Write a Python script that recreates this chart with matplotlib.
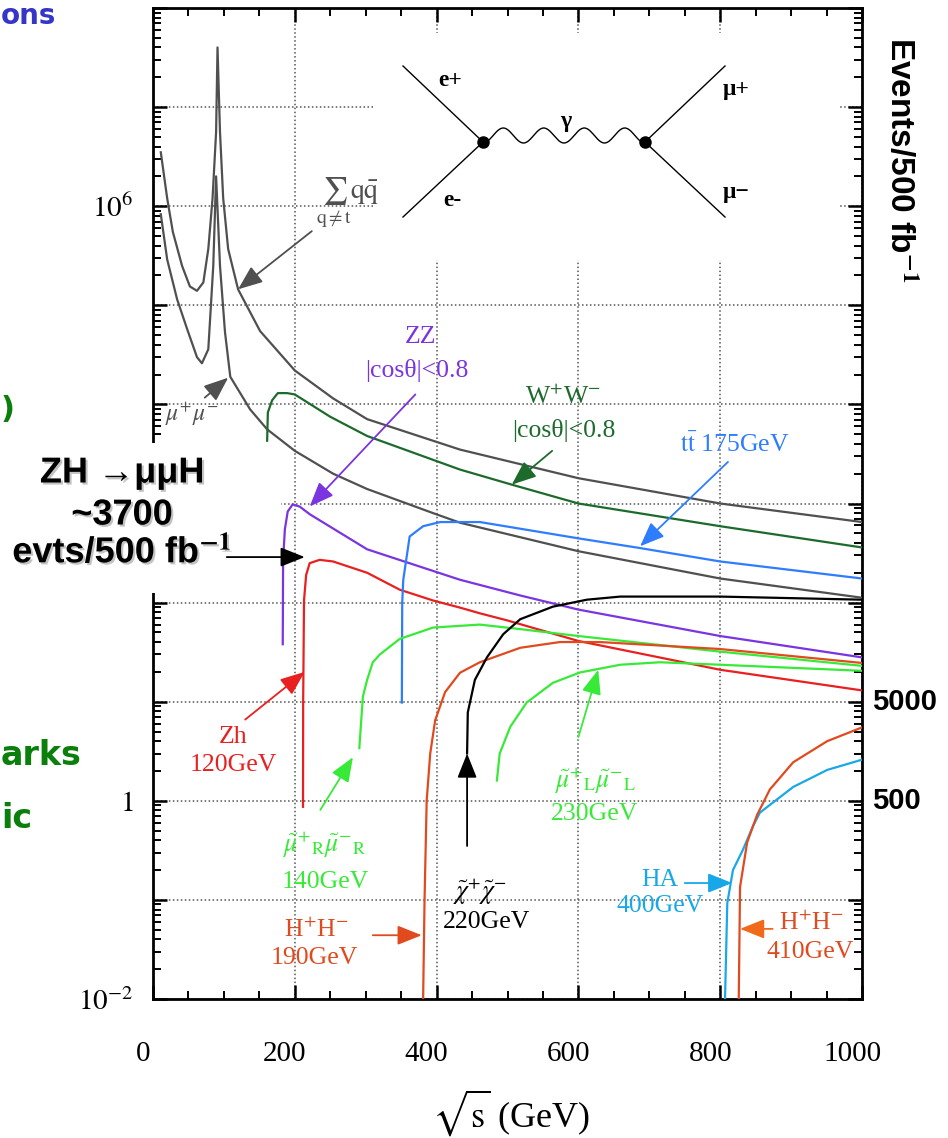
import numpy as np
import matplotlib
matplotlib.use('Agg')
import matplotlib.pyplot as plt
import matplotlib.patheffects as pe
from matplotlib.patches import Rectangle
from matplotlib.ticker import LogLocator, NullFormatter, FixedLocator, FuncFormatter, MultipleLocator
from matplotlib.transforms import ScaledTranslation

plt.rcParams['font.family'] = ['Liberation Serif', 'DejaVu Serif']
plt.rcParams['mathtext.fontset'] = 'stix'

# ---------------- cross sections (fb) vs sqrt(s) (GeV) ----------------
qq_x = [11, 20, 28, 41, 52, 62, 71, 78, 84, 89, 91, 94.5, 99, 106, 120, 151, 200, 254, 302, 433, 600, 800, 1000]
qq_y = [3.5e6, 1.2e6, 5.5e5, 2.5e5, 1.55e5, 1.4e5, 1.7e5, 3.7e5, 1.2e6, 5.6e6, 4.0e7, 5.6e6, 1.2e6, 3.7e5,
        1.45e5, 5.5e4, 2.2e4, 1.15e4, 7.1e3, 3.5e3, 1.8e3, 1.0e3, 650]

mumu_x = [11, 20, 34, 48, 62, 69, 78, 85, 89, 94.5, 101.5, 109, 137, 161, 200, 254, 302, 395, 433, 600, 800, 1000]
mumu_y = [8.3e5, 2.9e5, 1.15e5, 5.8e4, 3.0e4, 2.6e4, 3.6e4, 2.5e5, 2.0e6, 2.5e5, 5.4e4, 1.9e4,
          8.9e3, 5.6e3, 3.4e3, 2.0e3, 1.4e3, 800, 640, 330, 175, 112]

ww_x = [161, 162, 168, 176, 189, 200, 250, 302, 433, 506, 600, 800, 1000]
ww_y = [4.3e3, 8.3e3, 1.1e4, 1.3e4, 1.3e4, 1.26e4, 7.5e3, 4.8e3, 2.2e3, 1.55e3, 1.0e3, 590, 360]

zz_x = [183, 183.5, 186, 190, 197, 207, 221, 302, 433, 518, 600, 800, 1000]
zz_y = [38, 270, 550, 830, 980, 930, 780, 345, 170, 118, 85, 46, 28]

zh_x = [211.6, 211.8, 213, 216, 221, 235, 254, 302, 348, 395, 433, 461, 500, 600, 800, 1000]
zh_y = [0.87, 10, 105, 190, 250, 270, 260, 200, 135, 105, 89, 78, 66, 41, 21, 13]

tt_x = [351, 351.5, 353, 362, 381, 405, 461, 600, 687, 800, 1000]
tt_y = [9.8, 100, 170, 465, 590, 650, 650, 445, 355, 260, 175]

smuR_x = [291, 296, 302, 310, 320, 348, 395, 461, 518, 600, 800, 1000]
smuR_y = [3.4, 11.2, 16.6, 25, 30, 43, 56, 60, 54, 46, 32, 23]

smuL_x = [485, 489, 504, 527, 564, 602, 659, 715, 800, 1000]
smuL_y = [1.6, 3.0, 5.6, 9.8, 15.5, 19.7, 23.6, 25, 23.6, 20.5]

hpm190_x = [380.5, 381, 383, 386, 391, 398, 412, 433, 461, 518, 574, 630, 800, 1000]
hpm190_y = [0.008, 0.01, 0.1, 1.0, 3.0, 6.5, 12.5, 19.6, 25, 35, 40, 40, 34, 24.6]

chi_x = [443, 444, 454, 471, 494, 518, 564, 612, 659, 800, 1000]
chi_y = [3.0, 7.8, 16.6, 28, 48, 68, 91, 107, 115, 115, 107]

ha_x = [806.5, 810, 818, 832, 846, 856, 903, 951, 1000]
ha_y = [0.008, 0.093, 0.2, 0.32, 0.55, 0.76, 1.38, 2.05, 2.6]

hpm410_x = [826, 828, 838, 852, 856, 870, 903, 951, 1000]
hpm410_y = [0.008, 0.135, 0.38, 0.72, 0.82, 1.3, 2.45, 4.0, 5.5]

xticks = [0, 200, 400, 600, 800, 1000]
ylabels = {1e-2: r'$10^{-2}$', 1.0: r'$1$', 1e6: r'$10^{6}$'}

GREY = '#505050'
DKGREEN = '#1d6b2c'
PURPLE = '#7a34e0'
RED = '#e82020'
BLUE = '#2e7dff'
LTGREEN = '#38ea38'
ORANGE = '#e04a1e'
CYAN = '#18a8e8'

W, H = 948, 1138
fig = plt.figure(figsize=(W / 100, H / 100), dpi=100)


def fx(px):
    return px / W


def fy(py):
    return 1 - py / H


ax = fig.add_axes([fx(153), fy(999), 709 / W, 991 / H])
ax.set_yscale('log')
ax.set_xlim(0, 1000)
ax.set_ylim(1e-2, 1e8)
ax.set_axisbelow(True)

curves = [
    (qq_x, qq_y, GREY), (mumu_x, mumu_y, GREY), (ww_x, ww_y, DKGREEN),
    (zz_x, zz_y, PURPLE), (zh_x, zh_y, RED), (tt_x, tt_y, BLUE),
    (smuR_x, smuR_y, LTGREEN), (smuL_x, smuL_y, LTGREEN),
    (hpm190_x, hpm190_y, ORANGE), (chi_x, chi_y, 'black'),
    (ha_x, ha_y, CYAN), (hpm410_x, hpm410_y, ORANGE),
]
for xs, ys, c in curves:
    ax.plot(xs, ys, color=c, lw=1.6, zorder=3, solid_joinstyle='round')

# axes, ticks, grid
for s in ax.spines.values():
    s.set_linewidth(2.0)
ax.xaxis.set_major_locator(FixedLocator(xticks))
ax.xaxis.set_minor_locator(MultipleLocator(50))
ax.set_xticklabels([str(t) for t in xticks])
ax.yaxis.set_major_locator(LogLocator(base=10, numticks=30))
ax.yaxis.set_minor_locator(LogLocator(base=10, subs=np.arange(2, 10), numticks=100))
ax.yaxis.set_minor_formatter(NullFormatter())
ax.yaxis.set_major_formatter(FuncFormatter(
    lambda v, p: next((lab for k, lab in ylabels.items() if abs(np.log10(v) - np.log10(k)) < 1e-6), '')))
ax.tick_params(which='both', direction='in', top=True, right=True, labelsize=21)
ax.tick_params(which='major', length=10, width=1.8)
ax.tick_params(which='minor', length=6, width=1.4)
ax.tick_params(axis='x', pad=30)
ax.tick_params(axis='y', pad=14)
shift = ScaledTranslation(-10 / 100, 0, fig.dpi_scale_trans)
for lab in ax.get_xticklabels():
    lab.set_transform(lab.get_transform() + shift)
ax.grid(True, which='major', linestyle=(0, (1, 1.6)), color='#555555', linewidth=1.1)

fig.text(fx(511), fy(1113), r'$\sqrt{\mathrm{s}}$ (GeV)', size=26, ha='center', va='center')

# white panels behind the inset diagram and the ZH note
ax.add_patch(Rectangle((fx(375), fy(260)), fx(465), 227 / H, transform=fig.transFigure,
                       facecolor='white', edgecolor='none', zorder=0.8))
ax.add_patch(Rectangle((0, fy(593)), fx(281), 150 / H, transform=fig.transFigure,
                       facecolor='white', edgecolor='none', zorder=2.6, clip_on=False))

# e+e- -> gamma -> mu+mu- diagram
fk = dict(transform=fig.transFigure, color='black', lw=1.0, zorder=4, clip_on=False)
ax.plot([fx(403), fx(483)], [fy(66), fy(142)], **fk)
ax.plot([fx(403), fx(483)], [fy(217), fy(142)], **fk)
ax.plot([fx(645), fx(725)], [fy(142), fy(66)], **fk)
ax.plot([fx(645), fx(725)], [fy(142), fy(217)], **fk)
t = np.linspace(0, 1, 200)
ax.plot(fx(483 + 162 * t), fy(143 - 7.5 * (1 - np.cos(2 * np.pi * 4 * t))), **fk)
ax.plot([fx(483), fx(645)], [fy(142), fy(142)], 'o', ms=8, transform=fig.transFigure,
        color='black', zorder=5, clip_on=False)
for px, py, s in [(450, 81, 'e+'), (452, 201, 'e-'), (566, 121, 'γ'), (736, 89, 'μ+'), (736, 193, 'μ−')]:
    fig.text(fx(px), fy(py), s, size=17, weight='bold', ha='center', va='center')

# curve labels
lab = dict(size=18.5, ha='center', va='center', zorder=6)
ax.text(275, 1.07e6, r'$\sum_{\mathrm{q}\neq\mathrm{t}}\mathrm{q\bar{q}}$', color=GREY, size=20, ha='center', va='center')
ax.text(55, 7.9e3, r'$\mu^{+}\mu^{-}$', color=GREY, size=17, ha='center', va='center')
ax.text(377, 4.8e4, 'ZZ', color=PURPLE, **lab)
ax.text(372, 2.2e4, '|cosθ|<0.8', color=PURPLE, **lab)
ax.text(578, 1.2e4, r'W$^{+}$W$^{-}$', color=DKGREEN, **lab)
ax.text(580, 5.5e3, '|cosθ|<0.8', color=DKGREEN, **lab)
ax.text(821, 3.9e3, r'$\mathrm{t\bar{t}}$ 175GeV', color=BLUE, **lab)
ax.text(113, 4.4, 'Zh', color=RED, **lab)
ax.text(113, 2.3, '120GeV', color=RED, **lab)
ax.text(243, 0.36, r'$\tilde{\mu}^{+}{}_{\mathrm{R}}\tilde{\mu}^{-}{}_{\mathrm{R}}$', color=LTGREEN, **lab)
ax.text(243, 0.15, '140GeV', color=LTGREEN, **lab)
ax.text(230, 0.05, r'H$^{+}$H$^{-}$', color=ORANGE, **lab)
ax.text(228, 0.026, '190GeV', color=ORANGE, **lab)
ax.text(461, 0.12, r'$\tilde{\chi}^{+}\tilde{\chi}^{-}$', color='black', **lab)
ax.text(470, 0.06, '220GeV', color='black', **lab)
ax.text(625, 1.6, r'$\tilde{\mu}^{+}{}_{\mathrm{L}}\tilde{\mu}^{-}{}_{\mathrm{L}}$', color=LTGREEN, **lab)
ax.text(623, 0.74, '230GeV', color=LTGREEN, **lab)
ax.text(715, 0.16, 'HA', color=CYAN, **lab)
ax.text(715, 0.087, '400GeV', color=CYAN, **lab)
ax.text(928, 0.059, r'H$^{+}$H$^{-}$', color=ORANGE, **lab)
ax.text(927, 0.030, '410GeV', color=ORANGE, **lab)

arrows = [
    ((224, 5.6e5), (120, 1.45e5), GREY),
    ((73, 1.17e4), (106, 1.86e4), GREY),
    ((370, 1.26e4), (221, 933), PURPLE),
    ((563, 3.4e3), (506, 1.55e3), DKGREEN),
    ((811, 2.63e3), (687, 370), BLUE),
    ((130, 6.6), (214, 20), RED),
    ((236, 0.81), (282, 2.75), LTGREEN),
    ((310, 0.044), (379, 0.044), ORANGE),
    ((443, 0.35), (443, 3.0), 'black'),
    ((600, 4.4), (628, 21), LTGREEN),
    ((750, 0.148), (817, 0.148), CYAN),
    ((874, 0.051), (828, 0.051), '#f06a1a'),
    ((104, 288), (214, 288), 'black'),
]
for tail, tip, c in arrows:
    ax.annotate('', xy=tip, xytext=tail, zorder=5,
                arrowprops=dict(arrowstyle='-|>,head_length=0.75,head_width=0.3', color=c,
                                lw=1.3, mutation_scale=20, shrinkA=0, shrinkB=0))

# ZH note
shadow = [pe.withSimplePatchShadow(offset=(1.5, -1.5), shadow_rgbFace='#888888', alpha=0.5)]
zh_font = dict(family=['Liberation Sans', 'DejaVu Sans'], weight='bold', size=26,
               ha='center', va='center', path_effects=shadow)
fig.text(fx(122), fy(473), 'ZH →μμH', **zh_font)
fig.text(fx(122), fy(515), '~3700', **zh_font)
fig.text(fx(122), fy(553), r'evts/500 fb$^{\mathbf{-1}}$', **zh_font)

# right-hand event scale
rfont = dict(family=['Liberation Sans', 'DejaVu Sans'], weight='bold')
fig.text(fx(900), fy(160), r'Events/500 fb$^{\mathbf{-1}}$', rotation=-90, size=24,
         ha='center', va='center', **rfont)
for val, s in [(10, '5000'), (1, '500')]:
    ax.annotate(s, xy=(1, val), xycoords=('axes fraction', 'data'), xytext=(10, 0),
                textcoords='offset pixels', size=21, ha='left', va='center', **rfont)

# slide text along the left edge
slide = dict(family=['DejaVu Sans'], weight='bold', ha='left')
fig.text(fx(1), fy(2), 'ons', color='#3535c8', size=20, va='top', **slide)
fig.text(fx(1), fy(418), ')', color='#0b7f0b', size=22, va='baseline', **slide)
fig.text(fx(1), fy(765), 'arks', color='#0b7f0b', size=24, va='baseline', **slide)
fig.text(fx(1), fy(828), 'ic', color='#0b7f0b', size=24, va='baseline', **slide)

fig.savefig('out.png', dpi=100)
